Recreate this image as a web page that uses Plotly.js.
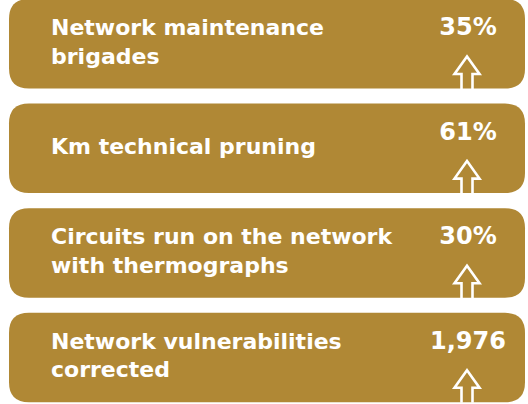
<!DOCTYPE html>
<html>
<head>
<meta charset="utf-8">
<script src="https://cdn.plot.ly/plotly-3.0.1.min.js"></script>
<style>html,body{margin:0;padding:0;background:#fff;}#chart{width:528px;height:404px;}</style>
</head>
<body>
<div id="chart"></div>
<script>
// Data
const labels = [
  "Network maintenance<br>brigades",
  "Km technical pruning",
  "Circuits run on the network<br>with thermographs",
  "Network vulnerabilities<br>corrected"
];
const values = ["35%", "61%", "30%", "1,976"];
const rows = [0, 1, 2, 3];

// Layout constants
const GOLD = "#B08835";
const step = 104.6, boxH = 89.5, top0 = -1;
const x0 = 9, x1 = 525, r = 20;
const arrowX = 467;

const shapes = [];
const boxTop = i => top0 + i * step;
rows.forEach(i => {
  const t = boxTop(i), b = t + boxH;
  const p = `M ${x0 + r},${t} L ${x1 - r},${t} Q ${x1},${t} ${x1},${t + r} L ${x1},${b - r} Q ${x1},${b} ${x1 - r},${b} ` +
            `L ${x0 + r},${b} Q ${x0},${b} ${x0},${b - r} L ${x0},${t + r} Q ${x0},${t} ${x0 + r},${t} Z`;
  shapes.push({type: "path", xref: "x", yref: "y", path: p, fillcolor: GOLD, line: {width: 0}, layer: "below"});
  const tip = b - 32, sh = tip + 17.5;
  const a = `M ${arrowX - 5.5},${b + 0.5} L ${arrowX - 5.5},${sh} L ${arrowX - 12.5},${sh} L ${arrowX},${tip} ` +
            `L ${arrowX + 12.5},${sh} L ${arrowX + 5.5},${sh} L ${arrowX + 5.5},${b + 0.5}`;
  shapes.push({type: "path", xref: "x", yref: "y", path: a, line: {color: "#ffffff", width: 2.6}, layer: "above"});
});

const FONT = "DejaVu Sans, sans-serif";
const traces = [
  {
    type: "scatter", mode: "text",
    x: rows.map(() => 51),
    y: rows.map(i => boxTop(i) + boxH / 2),
    text: labels,
    textposition: "middle right",
    textfont: {family: FONT, size: 22, color: "#ffffff", weight: 700},
    hoverinfo: "skip", showlegend: false, cliponaxis: false
  },
  {
    type: "scatter", mode: "text",
    x: rows.map(() => 468),
    y: rows.map(i => boxTop(i) + 30),
    text: values,
    textposition: "middle center",
    textfont: {family: FONT, size: 24, color: "#ffffff", weight: 700},
    hoverinfo: "skip", showlegend: false, cliponaxis: false
  }
];

const layout = {
  width: 528, height: 404,
  margin: {l: 0, r: 0, t: 0, b: 0},
  paper_bgcolor: "#ffffff", plot_bgcolor: "#ffffff",
  xaxis: {range: [0, 528], visible: false, fixedrange: true},
  yaxis: {range: [404, 0], visible: false, fixedrange: true},
  shapes: shapes,
  showlegend: false
};

Plotly.newPlot("chart", traces, layout, {staticPlot: true, displayModeBar: false});
</script>
</body>
</html>
